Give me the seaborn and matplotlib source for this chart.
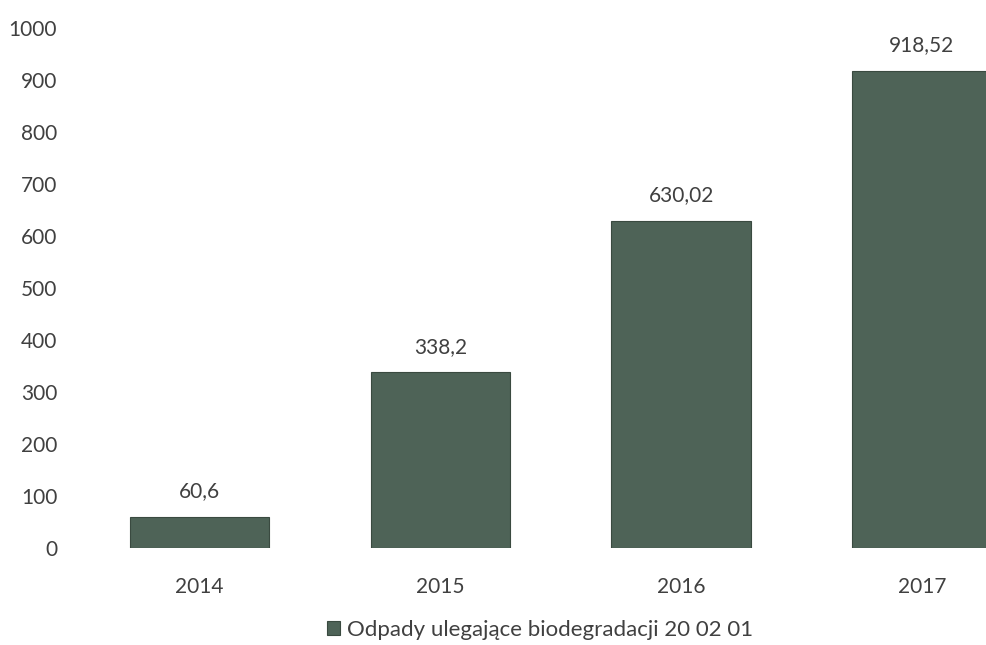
import seaborn as sns
import matplotlib.pyplot as plt
import pandas as pd

years = ['2014', '2015', '2016', '2017']
values = [60.6, 338.2, 630.02, 918.52]
value_labels = ['60,6', '338,2', '630,02', '918,52']
series_name = 'Odpady ulegające biodegradacji 20 02 01'

df = pd.DataFrame({'rok': years, 'wartosc': values, 'seria': series_name})

sns.set_theme(style='white')
plt.rcParams['font.family'] = ['Lato', 'DejaVu Sans']
text_col = '#404040'

fig = plt.figure(figsize=(9.87, 6.45), dpi=100)
ax = fig.add_axes([60 / 987, 0.150, 927 / 987, 0.806])

sns.barplot(data=df, x='rok', y='wartosc', hue='seria',
            palette=['#4a6656'], width=0.58, dodge=False,
            edgecolor='#3a4a40', linewidth=0.8, ax=ax)

ax.bar_label(ax.containers[0], labels=value_labels, padding=11,
             fontsize=15, color=text_col)

ax.set_ylim(0, 1000)
ax.set_xlim(-0.58, 3.27)
ax.set_yticks(range(0, 1001, 100))
ax.set_xlabel('')
ax.set_ylabel('')
ax.tick_params(axis='both', labelsize=15, colors=text_col, length=0)
ax.tick_params(axis='x', pad=21)
ax.tick_params(axis='y', pad=2)
sns.despine(ax=ax, left=True, bottom=True)

sns.move_legend(ax, 'lower center', bbox_to_anchor=(0.518, -0.215),
                title=None, frameon=False, fontsize=16, handlelength=0.6,
                handleheight=0.6, handletextpad=0.3)
for t in ax.get_legend().get_texts():
    t.set_color(text_col)

fig.savefig('out.png', dpi=100)
